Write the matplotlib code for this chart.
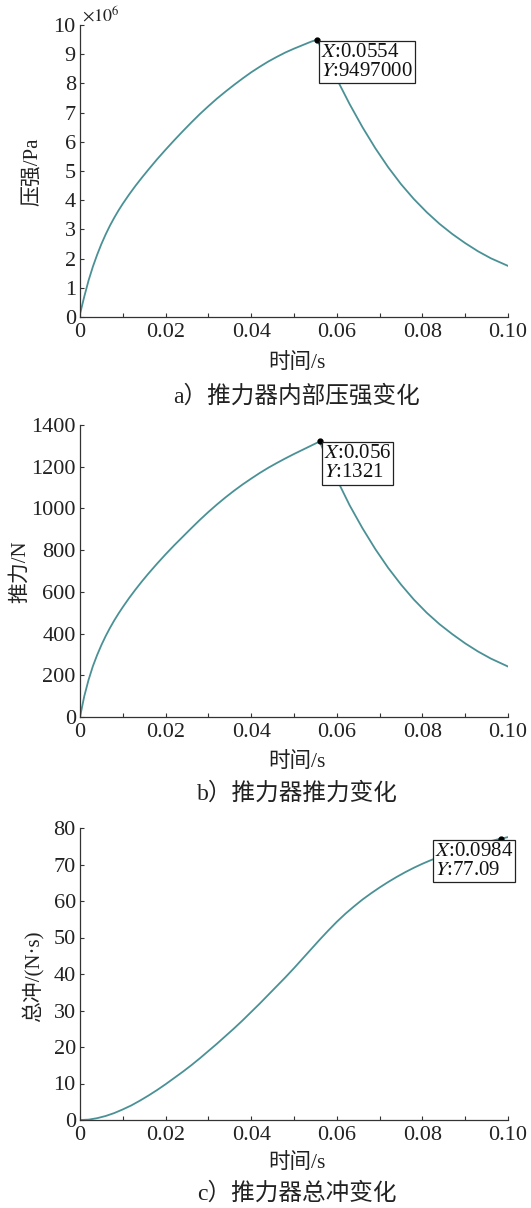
import matplotlib
matplotlib.use("Agg")
import matplotlib.pyplot as plt
from matplotlib.ticker import MultipleLocator, FixedLocator

plt.rcParams['font.family'] = ['Liberation Serif', 'Noto Sans CJK SC']
plt.rcParams['mathtext.fontset'] = 'stix'

# ---------------- data ----------------
# a) chamber pressure, units of 1e6 Pa
t_p = [0, 0.001, 0.002, 0.003, 0.004, 0.005, 0.006, 0.007, 0.008, 0.009,
       0.010, 0.0115, 0.013, 0.0145, 0.016, 0.018, 0.020, 0.022, 0.024,
       0.026, 0.028, 0.030, 0.032, 0.034, 0.036, 0.038, 0.040, 0.042,
       0.044, 0.046, 0.048, 0.050, 0.052, 0.054, 0.0554,
       0.0575, 0.060, 0.063, 0.066, 0.069, 0.072, 0.075, 0.078, 0.081,
       0.084, 0.087, 0.090, 0.093, 0.096, 0.100]
p_mpa = [0.10, 0.70, 1.25, 1.72, 2.13, 2.50, 2.83, 3.13, 3.40, 3.65,
         3.88, 4.20, 4.50, 4.78, 5.05, 5.40, 5.73, 6.05, 6.36,
         6.66, 6.95, 7.22, 7.48, 7.72, 7.95, 8.17, 8.38, 8.57,
         8.75, 8.91, 9.06, 9.19, 9.31, 9.43, 9.497,
         8.85, 8.15, 7.29, 6.50, 5.78, 5.13, 4.55, 4.04, 3.59,
         3.19, 2.84, 2.53, 2.25, 2.01, 1.75]

# b) thrust, N
t_f = [0, 0.001, 0.002, 0.003, 0.004, 0.005, 0.006, 0.007, 0.008, 0.009,
       0.010, 0.0115, 0.013, 0.0145, 0.016, 0.018, 0.020, 0.022, 0.024,
       0.026, 0.028, 0.030, 0.032, 0.034, 0.036, 0.038, 0.040, 0.042,
       0.044, 0.046, 0.048, 0.050, 0.052, 0.054, 0.056,
       0.058, 0.060, 0.063, 0.066, 0.069, 0.072, 0.075, 0.078, 0.081,
       0.084, 0.087, 0.090, 0.093, 0.096, 0.100]
thrust = [0, 100, 178, 243, 297, 345, 388, 427, 463, 496,
          527, 571, 612, 651, 688, 735, 780, 823, 864,
          905, 945, 983, 1019, 1053, 1085, 1115, 1143, 1170,
          1195, 1218, 1240, 1261, 1281, 1301, 1321,
          1225, 1140, 1015, 905, 805, 715, 635, 563, 500,
          445, 397, 353, 314, 280, 242]

# c) total impulse, N*s
t_i = [0, 0.002, 0.004, 0.006, 0.008, 0.010, 0.012, 0.014, 0.016, 0.018,
       0.020, 0.022, 0.024, 0.026, 0.028, 0.030, 0.032, 0.034, 0.036,
       0.038, 0.040, 0.042, 0.044, 0.046, 0.048, 0.050, 0.052, 0.054,
       0.056, 0.058, 0.060, 0.062, 0.064, 0.066, 0.068, 0.070, 0.072,
       0.074, 0.076, 0.078, 0.080, 0.082, 0.084, 0.086, 0.088, 0.090,
       0.092, 0.094, 0.096, 0.098, 0.0984, 0.100]
impulse = [0, 0.1, 0.5, 1.1, 1.9, 2.9, 4.0, 5.3, 6.7, 8.2,
           9.8, 11.5, 13.2, 15.0, 16.9, 18.9, 20.9, 23.0, 25.1,
           27.3, 29.6, 31.9, 34.3, 36.7, 39.1, 41.6, 44.2, 46.8,
           49.4, 51.9, 54.3, 56.5, 58.5, 60.4, 62.1, 63.7, 65.2,
           66.6, 67.9, 69.1, 70.2, 71.2, 72.1, 73.0, 73.8, 74.5,
           75.2, 75.8, 76.4, 77.0, 77.09, 77.5]

x_ticks = [0, 0.02, 0.04, 0.06, 0.08, 0.10]
x_ticklabels = ['0', '0.02', '0.04', '0.06', '0.08', '0.10']

ylabels = ['压强/Pa', '推力/N', '总冲/(N·s)']
captions = ['a）推力器内部压强变化', 'b）推力器推力变化', 'c）推力器总冲变化']
xlabel = '时间/s'
tips = [(0.0554, 9.497, r'$X$:0.0554' + '\n' + r'$Y$:9497000'),
        (0.056, 1321, r'$X$:0.056' + '\n' + r'$Y$:1321'),
        (0.0984, 77.09, r'$X$:0.0984' + '\n' + r'$Y$:77.09')]

# ---------------- figure ----------------
W, H = 531, 1208
fig = plt.figure(figsize=(W / 100, H / 100), dpi=100)

def fx(px):
    return px / W

def fy(py):
    return 1 - py / H

line_color = '#4a9196'
spine_color = '#333333'

# axes boxes in pixels: (left, top, right, bottom)
boxes = [(80, 25, 508, 317), (80, 425, 508, 717), (80, 828, 508, 1120)]
series = [(t_p, p_mpa), (t_f, thrust), (t_i, impulse)]
ylims = [(0, 10), (0, 1400), (0, 80)]
ysteps = [1, 200, 10]
ylabel_pos = [(33, 172), (20, 572), (33, 976)]
xlabel_y = [363, 762, 1163]
caption_y = [396, 794, 1193]
tip_offsets = [(4, -3), (4, -3), (-66, -3)]

for i in range(3):
    l, t, r, b = boxes[i]
    ax = fig.add_axes([fx(l), fy(b), fx(r - l), (b - t) / H])
    x, y = series[i]
    ax.plot(x, y, color=line_color, lw=1.3, zorder=2)
    ax.set_xlim(0, 0.10)
    ax.set_ylim(*ylims[i])
    ax.xaxis.set_major_locator(FixedLocator(x_ticks))
    ax.set_xticklabels(x_ticklabels)
    ax.xaxis.set_minor_locator(MultipleLocator(0.01))
    ax.yaxis.set_major_locator(MultipleLocator(ysteps[i]))
    for s in ['top', 'right']:
        ax.spines[s].set_visible(False)
    for s in ['left', 'bottom']:
        ax.spines[s].set_color(spine_color)
        ax.spines[s].set_linewidth(0.9)
    ax.tick_params(axis='both', which='both', direction='in', length=3,
                   width=0.8, color=spine_color, labelsize=16,
                   labelcolor='#222222')
    ax.tick_params(axis='x', pad=4)
    ax.tick_params(axis='y', pad=3)

    tx, ty, txt = tips[i]
    ax.plot([tx], [ty], marker='o', ms=3.5, color='black', zorder=5,
            clip_on=False)
    ax.annotate(txt, xy=(tx, ty), xytext=tip_offsets[i],
                textcoords='offset pixels', ha='left', va='top',
                fontsize=15, linespacing=1.0, color='#111111', zorder=6,
                bbox=dict(boxstyle='square,pad=0.1', fc='white',
                          ec='#222222', lw=0.9),
                annotation_clip=False)

    fig.text(fx(ylabel_pos[i][0]), fy(ylabel_pos[i][1]), ylabels[i],
             rotation=90, ha='center', va='center', fontsize=15,
             color='#222222')
    fig.text(fx(297), fy(xlabel_y[i]), xlabel, ha='center', va='center',
             fontsize=15.5, color='#222222')
    fig.text(fx(297), fy(caption_y[i]), captions[i], ha='center',
             va='center', fontsize=17, color='#222222')

# exponent label on panel a
fig.text(fx(82), fy(15), r'$\times10^{6}$', ha='left', va='center',
         fontsize=13, color='#222222')

fig.savefig('out.png', dpi=100)
